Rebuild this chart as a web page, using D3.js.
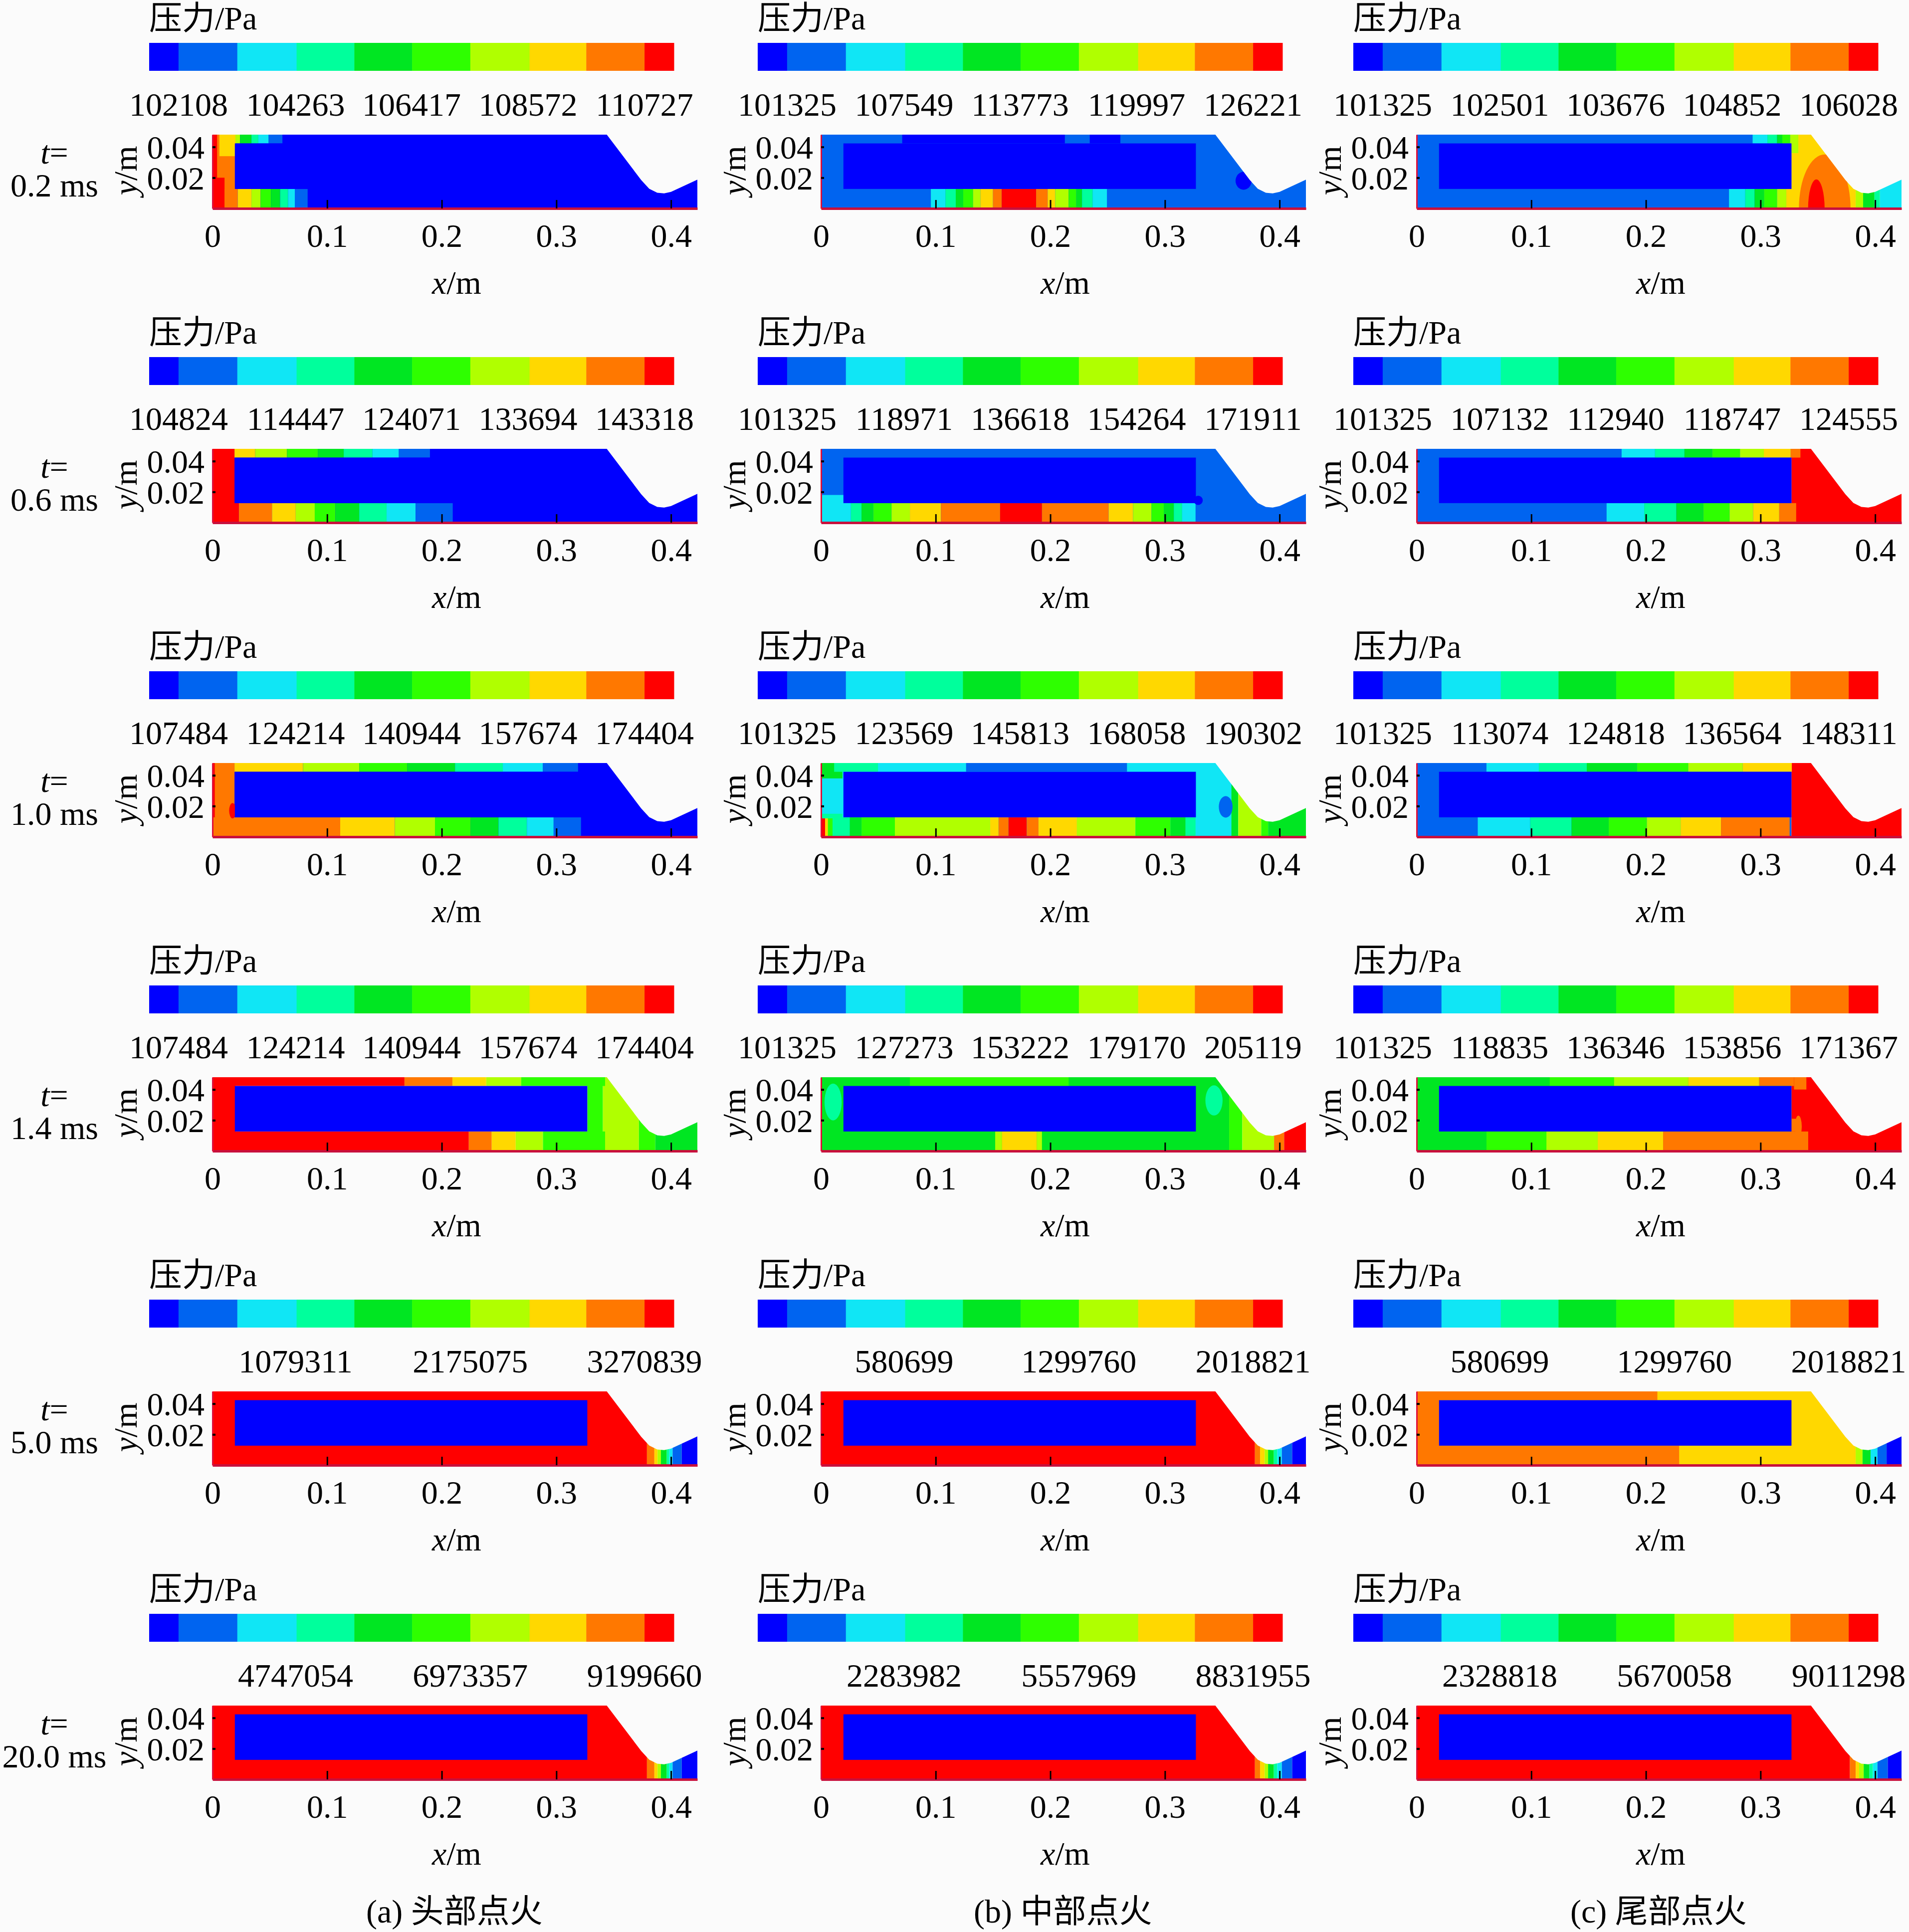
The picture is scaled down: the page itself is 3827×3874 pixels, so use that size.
<!DOCTYPE html>
<html>
<head>
<meta charset="utf-8">
<script src="https://cdnjs.cloudflare.com/ajax/libs/d3/7.8.5/d3.min.js"></script>
<style>
body{margin:0;background:#fbfbfb;}
text{font-family:"Liberation Serif","Noto Sans CJK SC",serif;fill:#000;}
</style>
</head>
<body>
<div id="chart"></div>
<script>
//colour bands of the pressure legend, low to high
const bandColors = ["#0000ff","#0064f0","#10e6f5","#00ff9c","#00e622","#2eff00","#b0ff00","#ffd800","#ff7800","#ff0000"]
const bandEdges = [0,.056,.168,.281,.391,.501,.612,.725,.833,.944,1]
const labelAt5 = [.056,.279,.5,.722,.944]
const labelAt3 = [.279,.612,.944]

const timeLabels = ["0.2 ms","0.6 ms","1.0 ms","1.4 ms","5.0 ms","20.0 ms"]
const captions = ["(a) 头部点火","(b) 中部点火","(c) 尾部点火"]
const xTicks = [0,.1,.2,.3,.4]
const yTicks = [.02,.04]

const labelsA = [
  ["102108","104263","106417","108572","110727"],
  ["104824","114447","124071","133694","143318"],
  ["107484","124214","140944","157674","174404"],
  ["107484","124214","140944","157674","174404"],
  ["1079311","2175075","3270839"],
  ["4747054","6973357","9199660"]]
const labelsB = [
  ["101325","107549","113773","119997","126221"],
  ["101325","118971","136618","154264","171911"],
  ["101325","123569","145813","168058","190302"],
  ["101325","127273","153222","179170","205119"],
  ["580699","1299760","2018821"],
  ["2283982","5557969","8831955"]]
const labelsC = [
  ["101325","102501","103676","104852","106028"],
  ["101325","107132","112940","118747","124555"],
  ["101325","113074","124818","136564","148311"],
  ["101325","118835","136346","153856","171367"],
  ["580699","1299760","2018821"],
  ["2328818","5670058","9011298"]]

//motor wall outline and grain block, in metres
const wallX = [0,0,.344,.374,.381,.388,.394,.4,.423,.423]
const wallY = [0,.048,.048,.0185,.0128,.0102,.0098,.0108,.0187,0]
const grainX = [.0195,.327]
const grainY = [.0127,.0423]

//y extents of the flow regions
const T = [.0423,.06]
const B = [-.001,.0127]
const H = [-.001,.06]

//each strip: [y extent, start x, colour, end x, colour, end x, ...]
const a1 = [[H,0,0,.43],[H,0,8,.02],[H,0,9,.004],[[0,.02],0,9,.0105],[[.034,.06],.006,7,.02],
  [T,.02,6,.024,4,.034,3,.04,2,.049,1,.061],
  [B,0,9,.0105,8,.022,7,.034,6,.042,5,.051,4,.059,3,.066,2,.072,1,.083]]
const b1 = [[H,0,1,.43],[T,.0708,0,.2127],[T,.2344,0,.2611],
  [B,.0958,2,.1085,3,.1175,4,.124,5,.1326,6,.139,7,.15,8,.1576,9,.1876,8,.1977,7,.2043,6,.216,5,.2227,4,.2277,3,.237,2,.2494]]
const c1 = [[H,0,1,.327],[H,.327,7,.3732],[[.036,.06],.327,6,.333],[H,.3732,7,.383,6,.3895,4,.3994,3,.4042,2,.43],
  [T,.2931,2,.306,3,.3144,4,.319,5,.3258,6,.3324],
  [B,.2725,2,.2866,3,.2948,4,.303,5,.3144,6,.3225,7,.333]]

const a2 = [[H,0,0,.43],[H,0,9,.0192],
  [T,.0192,7,.0373,6,.065,5,.0921,4,.1145,3,.1396,2,.1626,1,.1897],
  [B,0,9,.023,8,.0519,7,.0726,6,.0892,5,.1073,4,.128,3,.1519,2,.1772,1,.2096]]
const b2 = [[H,0,1,.43],[[-.001,.018],0,2,.026],
  [B,.026,3,.0353,4,.0455,5,.0615,6,.0775,7,.1046,8,.1562,9,.1927,8,.2509,7,.2722,6,.2883,5,.299,4,.3078,3,.315,2,.3267]]
const c2 = [[H,0,1,.327],[H,.327,9,.43],
  [T,.1788,2,.2079,3,.2336,4,.2578,5,.2821,6,.3029,7,.3263,8,.3348],
  [B,.1657,2,.1985,3,.2265,4,.2501,5,.273,6,.2935,7,.3163,8,.3311]]

const a3 = [[H,0,0,.43],[H,0,8,.0192],[H,0,9,.002],
  [T,.0192,7,.079,6,.128,5,.17,4,.2116,3,.2533,2,.2883,1,.3189],
  [B,0,8,.1114,7,.1591,6,.1941,5,.2253,4,.2495,3,.2743,2,.2976,1,.3215]]
const b3 = [[H,0,2,.36],[H,.358,4,.364,6,.384,5,.39,4,.43],[[.038,.06],0,4,.0187],[[-.001,.015],0,3,.0187],
  [[-.001,.012],0,9,.0035,7,.006,5,.01],
  [T,0,4,.0114,3,.0498,2,.1265,1,.267,2,.3258],
  [B,.0187,3,.025,4,.0353,5,.0644,6,.1475,7,.1548,8,.1635,9,.1795,8,.1897,7,.2232,6,.2743,5,.3049,4,.318,3,.3267]]
const c3 = [[H,0,1,.327],[H,.327,9,.43],
  [T,.0609,2,.1066,3,.1484,4,.1922,5,.2369,6,.2845,7,.3273],
  [B,.0533,2,.099,3,.1351,4,.1675,5,.2008,6,.2303,7,.2655,8,.3254]]

const a4 = [[H,0,9,.02],[H,.327,5,.3406,6,.372,5,.3863,4,.43],
  [T,0,9,.1675,8,.2093,7,.2388,6,.2693,5,.3425],
  [B,0,9,.2236,8,.2436,7,.2645,6,.2883,5,.3425]]
const b4 = [[H,0,4,.356],[H,.356,5,.3675,6,.3952,8,.404,9,.43],
  [T,.0775,5,.216],
  [B,.1519,6,.1577,7,.1883,6,.1927]]
const c4 = [[H,0,4,.327],[H,.327,9,.43],
  [T,0,4,.1161,5,.1722,6,.2369,7,.2988,8,.3292],[[.04,.06],.3292,8,.34],
  [B,0,4,.0609,5,.1132,6,.158,7,.215,8,.3416],[[.0127,.021],.327,8,.331]]

const a5 = [[H,0,9,.379,8,.3855,7,.3883,6,.3912,4,.3963,3,.3985,2,.4014,1,.4094,0,.43]]
const b5 = [[H,0,9,.3785,8,.383,7,.387,6,.39,4,.395,3,.398,2,.402,1,.411,0,.43]]
const c5 = [[H,0,7,.383,6,.389,4,.396,2,.402,1,.41,0,.43],[T,0,8,.21],[B,0,8,.229],[[-.001,.06],0,8,.02]]
const a6 = [[H,0,9,.379,8,.3855,7,.3883,6,.3912,4,.3963,3,.3985,2,.4014,1,.4094,0,.43]]
const b6 = [[H,0,9,.3785,8,.383,7,.387,6,.39,4,.395,3,.398,2,.402,1,.411,0,.43]]
const c6 = [[H,0,9,.378,8,.383,7,.386,6,.39,4,.395,3,.398,2,.402,1,.411,0,.43]]

//pressure pockets: [row, column, colour, centre x, centre y, radius x, radius y]
const pockets = [
  [0,1,0,.3686,.018,.007,.0058],
  [0,2,8,.356,0,.0225,.0351],
  [0,2,9,.3487,0,.0072,.0189],
  [1,1,0,.329,.0145,.004,.003],
  [2,0,9,.0175,.017,.003,.005],
  [2,1,1,.353,.0195,.006,.007],
  [3,1,3,.0105,.0319,.0075,.012],
  [3,1,3,.3428,.0329,.0075,.0098],
  [3,2,8,.333,.016,.003,.007]]

const panelFields = [[a1,b1,c1],[a2,b2,c2],[a3,b3,c3],[a4,b4,c4],[a5,b5,c5],[a6,b6,c6]]
const panelLabels = [labelsA,labelsB,labelsC]

//layout
const w = 3827
const h = 3874
const colLeft = [426,1646,2840]
const rowStep = 630
const plotW = 972
const plotH = 148
const plotTop = 270
const barLeft = -127
const barW = 1052
const fontSize = 66

const svg = d3.select("#chart").append("svg")
  .attr("width",w)
  .attr("height",h)
  .attr("viewBox",`0 0 ${w} ${h}`)
  .style("display","block")

svg.append("rect").attr("width",w).attr("height",h).attr("fill","#fbfbfb")

const xScale = d3.scaleLinear().domain([0,.423]).range([0,plotW])
const yScale = d3.scaleLinear().domain([0,.048]).range([plotH,0])
const barScale = d3.scaleLinear().domain([0,1]).range([0,barW])

const wallLine = d3.line().x(d=>xScale(d[0])).y(d=>yScale(d[1]))

//turn a strip into plain rects
const stripRects = (strip)=>{
  const out = []
  let x0 = strip[1]
  for(let i=2;i<strip.length;i+=2){
    out.push({c:strip[i],x0:x0,x1:strip[i+1],y0:strip[0][0],y1:strip[0][1]})
    x0 = strip[i+1]
  }
  return out
}

const drawPanel = (col,row)=>{
  const g = svg.append("g")
    .attr("transform",`translate(${colLeft[col]},${plotTop+row*rowStep})`)

  //legend title
  const title = g.append("text")
    .attr("x",barLeft)
    .attr("y",59-plotTop)
    .style("font-size",fontSize+"px")
    .text("压力/Pa")

  //legend bar
  const legendData = bandColors.map((c,i)=>({c:c,a:bandEdges[i],b:bandEdges[i+1]}))
  g.append("g").attr("transform",`translate(${barLeft},${86-plotTop})`)
    .selectAll("rect")
    .data(legendData)
    .enter()
    .append("rect")
    .attr("x",d=>barScale(d.a))
    .attr("width",d=>barScale(d.b)-barScale(d.a)+.5)
    .attr("height",56)
    .attr("fill",d=>d.c)

  //legend numbers
  const labels = panelLabels[col][row]
  const spots = labels.length==5 ? labelAt5 : labelAt3
  g.selectAll("text.value")
    .data(labels)
    .enter()
    .append("text")
    .attr("class","value")
    .attr("x",(d,i)=>barLeft+barScale(spots[i]))
    .attr("y",232-plotTop)
    .attr("text-anchor","middle")
    .style("font-size",fontSize+"px")
    .text(d=>d)

  //pressure field clipped to the wall outline
  const clipId = `wall-${row}-${col}`
  g.append("clipPath").attr("id",clipId)
    .append("path")
    .attr("d",wallLine(wallX.map((x,i)=>[x,wallY[i]]))+"Z")

  const field = g.append("g").attr("clip-path",`url(#${clipId})`)

  field.selectAll("rect.band")
    .data(panelFields[row][col].flatMap(stripRects))
    .enter()
    .append("rect")
    .attr("class","band")
    .attr("x",d=>xScale(d.x0))
    .attr("y",d=>yScale(d.y1))
    .attr("width",d=>xScale(d.x1)-xScale(d.x0))
    .attr("height",d=>yScale(d.y0)-yScale(d.y1))
    .attr("fill",d=>bandColors[d.c])

  field.selectAll("ellipse")
    .data(pockets.filter(d=>d[0]==row && d[1]==col))
    .enter()
    .append("ellipse")
    .attr("cx",d=>xScale(d[3]))
    .attr("cy",d=>yScale(d[4]))
    .attr("rx",d=>xScale(d[5]))
    .attr("ry",d=>plotH-yScale(d[6]))
    .attr("fill",d=>bandColors[d[2]])

  field.append("rect")
    .attr("x",xScale(grainX[0]))
    .attr("y",yScale(grainY[1]))
    .attr("width",xScale(grainX[1])-xScale(grainX[0]))
    .attr("height",yScale(grainY[0])-yScale(grainY[1]))
    .attr("fill",bandColors[0])

  //axes, ticks point inwards
  const xAxis = d3.axisBottom(xScale)
    .tickValues(xTicks)
    .tickSizeInner(-17)
    .tickSizeOuter(0)
    .tickPadding(30)
    .tickFormat(d=>String(d))
  const xg = g.append("g").attr("transform",`translate(0,${plotH})`).call(xAxis)
  xg.select(".domain").attr("stroke","#c8103c").attr("stroke-width",5)
  xg.selectAll(".tick line").attr("stroke","#000").attr("stroke-width",3)
  xg.selectAll("text").style("font-size",fontSize+"px").attr("fill","#000")
    .style("font-family",'"Liberation Serif",serif')

  const yAxis = d3.axisLeft(yScale)
    .tickValues(yTicks)
    .tickSizeInner(-6)
    .tickSizeOuter(0)
    .tickPadding(16)
    .tickFormat(d=>d3.format(".2f")(d))
  const yg = g.append("g").call(yAxis)
  yg.select(".domain").attr("stroke","#e0103a").attr("stroke-width",3)
  yg.selectAll(".tick line").attr("stroke","#000").attr("stroke-width",4)
  yg.selectAll("text").style("font-size",fontSize+"px").attr("fill","#000")
    .style("font-family",'"Liberation Serif",serif')
    .attr("y",2)

  //axis titles
  const xt = g.append("text")
    .attr("x",xScale(.213))
    .attr("y",589-plotTop)
    .attr("text-anchor","middle")
    .style("font-size",fontSize+"px")
  xt.append("tspan").style("font-style","italic").text("x")
  xt.append("tspan").text("/m")

  const yt = g.append("text")
    .attr("transform",`translate(-152,${342-plotTop}) rotate(-90)`)
    .attr("text-anchor","middle")
    .style("font-size",fontSize+"px")
  yt.append("tspan").style("font-style","italic").text("y")
  yt.append("tspan").text("/m")
}

d3.range(6).forEach(row=>{
  d3.range(3).forEach(col=>drawPanel(col,row))

  //time labels on the left
  const tl = svg.append("text")
    .attr("x",109)
    .attr("y",328+row*rowStep)
    .attr("text-anchor","middle")
    .style("font-size",fontSize+"px")
  tl.append("tspan").style("font-style","italic").text("t")
  tl.append("tspan").text("=")

  svg.append("text")
    .attr("x",109)
    .attr("y",394+row*rowStep)
    .attr("text-anchor","middle")
    .style("font-size",fontSize+"px")
    .text(timeLabels[row])
})

//captions under each column
svg.selectAll("text.caption")
  .data(captions)
  .enter()
  .append("text")
  .attr("class","caption")
  .attr("x",(d,i)=>colLeft[i]+xScale(.211))
  .attr("y",3855)
  .attr("text-anchor","middle")
  .style("font-size",fontSize+"px")
  .text(d=>d)
</script>
</body>
</html>
